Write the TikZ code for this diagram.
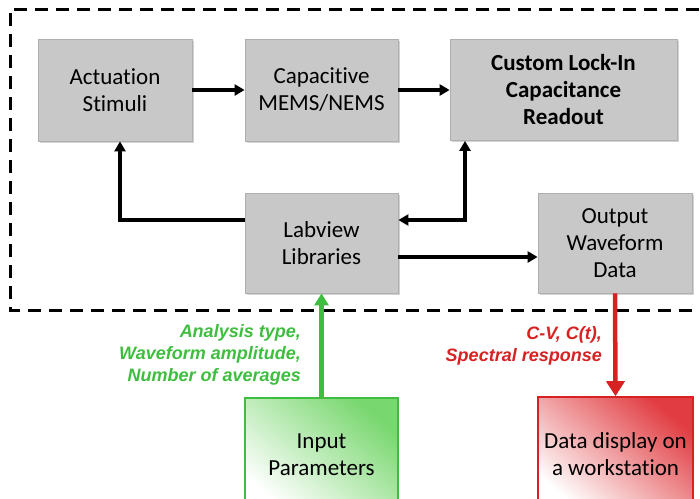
\documentclass[tikz,border=0pt]{standalone}
\usepackage{fontspec}
\setmainfont{Carlito}[Ligatures=NoCommon]
\newfontfamily\lblfont{Liberation Sans}
\usetikzlibrary{arrows.meta,shadows}
\definecolor{boxgray}{RGB}{200,200,200}
\definecolor{boxedge}{RGB}{175,175,175}
\definecolor{mygreen}{RGB}{62,190,62}
\definecolor{lightgreen}{RGB}{120,215,110}
\definecolor{myred}{RGB}{214,34,34}
\definecolor{lightred}{RGB}{225,60,65}
\begin{document}
\begin{tikzpicture}[x=1pt,y=-1pt,
  boxfont/.style={font=\fontsize{23}{27}\selectfont},
  graybox/.style={draw=boxedge, line width=0.8pt, fill=boxgray, align=center,
    inner sep=1pt, boxfont,
    drop shadow={shadow xshift=1.5pt, shadow yshift=-1.5pt, opacity=0.35}},
  arr/.style={line width=3.4pt, -{Triangle[length=10pt,width=11pt]}},
  lbl/.style={align=right, anchor=east, inner sep=0pt,
    font=\lblfont\bfseries\itshape\fontsize{18}{22}\selectfont}
]
\useasboundingbox (0,0) rectangle (700,498);
% dashed frame
\draw[line width=3pt, dash pattern=on 13pt off 8pt] (720,9) -- (10,9) -- (10,310) -- (720,310);

\node[graybox, minimum width=154pt, minimum height=102pt] (act) at (115,90) {Actuation\\Stimuli};
\node[graybox, minimum width=153pt, minimum height=102pt] (cap) at (321.5,90) {Capacitive\\MEMS/NEMS};
\node[graybox, minimum width=227pt, minimum height=101pt] (cli) at (563.5,90) {\bfseries Custom Lock-In\\\bfseries Capacitance\\\bfseries Readout};
\node[graybox, minimum width=153pt, minimum height=100pt] (lab) at (321.5,243) {Labview\\Libraries};
\node[graybox, minimum width=154pt, minimum height=100pt] (out) at (615,243) {Output\\Waveform\\Data};

\node[draw=mygreen, line width=1.6pt, shading=axis, top color=lightgreen, bottom color=white,
  shading angle=-40, minimum width=153pt, minimum height=114pt, align=center, inner sep=1pt,
  boxfont] (inp) at (321.5,455) {Input\\Parameters};
\node[draw=myred, line width=1.6pt, shading=axis, top color=lightred, bottom color=white,
  shading angle=-40, minimum width=155pt, minimum height=114pt, align=center, inner sep=1pt,
  boxfont] (disp) at (615.5,454) {Data display on\\a workstation};

% connectors
\draw[arr] (act.east) -- (cap.west);
\draw[arr] (cap.east) -- (cli.west);
\draw[arr] ([yshift=23pt]lab.west) -| ([xshift=5pt]act.south);
\draw[line width=3.4pt, {Triangle[length=10pt,width=11pt]}-{Triangle[length=10pt,width=11pt]}]
  ([yshift=23pt]lab.east) -| ([xshift=-98.5pt]cli.south);
\draw[arr] ([yshift=-14pt]lab.east) -- ([yshift=-14pt]out.west);
\draw[draw=mygreen, line width=4.5pt, -{Triangle[length=12pt,width=14pt]}] (inp.north) -- (lab.south);
\draw[draw=myred, line width=4.5pt, -{Triangle[length=15pt,width=18pt]}] (out.south) -- (disp.north);

% labels
\node[lbl, text=mygreen] (glbl) at (301,355) {Analysis type,\\Waveform amplitude,\\Number of averages};
\node[lbl, text=myred] (rlbl) at (602,346) {C-V, C(t),\\Spectral response};
\end{tikzpicture}
\end{document}
